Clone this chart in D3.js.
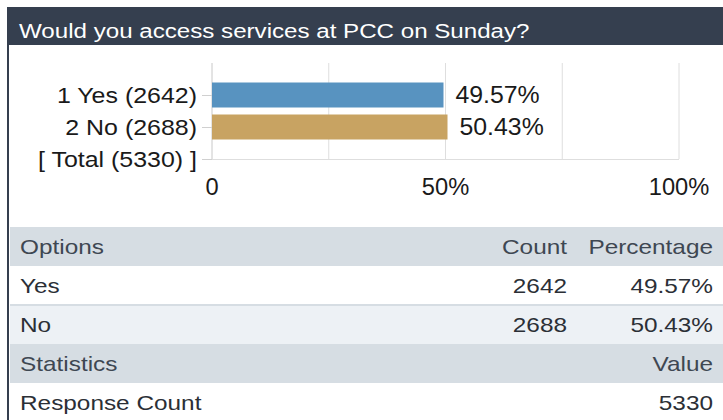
<!DOCTYPE html>
<html>
<head>
<meta charset="utf-8">
<script src="https://cdn.jsdelivr.net/npm/d3@7"></script>
<style>
  body { margin: 0; background: #fff; }
  text { font-family: "Liberation Sans", Arial, sans-serif; }
</style>
</head>
<body>
<div id="chart"></div>
<script>
var title = "Would you access services at PCC on Sunday?";
var options = ["Yes", "No"];
var counts = [2642, 2688];
var percents = [49.57, 50.43];
var total = 5330;
var xTicks = [0, 50, 100];
var gridTicks = [0, 25, 50, 75, 100];

var svgWidth = 723;
var svgHeight = 420;
var dark = "#353f4f";

// the source text is a bit wider than plain Arial, so stretch it sideways
function stretched(sel, x, y, sx) {
  return sel.append("g")
    .attr("transform", `translate(${x}, ${y}) scale(${sx}, 1)`)
    .append("text");
}

var svg = d3.select("#chart")
  .append("svg")
  .attr("width", svgWidth)
  .attr("height", svgHeight);

svg.append("rect")
  .attr("width", svgWidth).attr("height", svgHeight)
  .attr("fill", "#fff");

// header band + left border
svg.append("rect")
  .attr("x", 7).attr("y", 7)
  .attr("width", svgWidth - 7).attr("height", 38)
  .attr("fill", dark);

svg.append("rect")
  .attr("x", 7).attr("y", 7)
  .attr("width", 2).attr("height", svgHeight - 7)
  .attr("fill", dark);

stretched(svg, 19, 38, 1.15)
  .attr("fill", "#fff")
  .attr("font-size", 21)
  .text(title);

// bar chart
var labels = options.map((d, i) => (i + 1) + " " + d + " (" + counts[i] + ")");
var yLabels = [""].concat(labels, ["[ Total (" + total + ") ]"]);

var xScale = d3.scaleLinear().domain([0, 100]).range([212, 679]);
var yScale = d3.scalePoint().domain(yLabels).range([63, 159]);

var chartGroup = svg.append("g");

chartGroup.selectAll(".grid")
  .data(gridTicks)
  .enter()
  .append("line")
  .attr("x1", d => xScale(d)).attr("x2", d => xScale(d))
  .attr("y1", 63).attr("y2", 159)
  .attr("stroke", d => d === 0 ? "#c8c8c8" : "#dedede")
  .attr("stroke-width", 1);

chartGroup.append("line")
  .attr("x1", xScale(0)).attr("x2", xScale(100))
  .attr("y1", 159.5).attr("y2", 159.5)
  .attr("stroke", "#dedede");

chartGroup.selectAll(".ytick")
  .data(yLabels.slice(1))
  .enter()
  .append("line")
  .attr("x1", xScale(0) - 10).attr("x2", xScale(0))
  .attr("y1", d => yScale(d) + 0.5).attr("y2", d => yScale(d) + 0.5)
  .attr("stroke", "#d0d0d0");

yLabels.slice(1).forEach(function(d) {
  stretched(chartGroup, 197, yScale(d), 1.085)
    .attr("dy", "0.35em")
    .attr("text-anchor", "end")
    .attr("font-size", 23)
    .attr("fill", "#1a1a1a")
    .text(d);
});

var barColors = ["#5893c0", "#c8a362"];

chartGroup.selectAll(".bar")
  .data(percents)
  .enter()
  .append("rect")
  .attr("x", xScale(0))
  .attr("y", (d, i) => yScale(labels[i]) - 12.5)
  .attr("width", d => xScale(d) - xScale(0))
  .attr("height", 25)
  .attr("fill", (d, i) => barColors[i]);

percents.forEach(function(d, i) {
  stretched(chartGroup, xScale(d) + 12, yScale(labels[i]), 1.08)
    .attr("dy", "0.35em")
    .attr("font-size", 23)
    .attr("fill", "#1a1a1a")
    .text(d.toFixed(2) + "%");
});

xTicks.forEach(function(d) {
  stretched(chartGroup, xScale(d), 187, 1.03)
    .attr("dy", "0.35em")
    .attr("text-anchor", "middle")
    .attr("font-size", 23)
    .attr("fill", "#1a1a1a")
    .text(d === 0 ? "0" : d + "%");
});

// table
var rows = [
  { cells: ["Options", "Count", "Percentage"], fill: "#d6dde3", head: true },
  { cells: [options[0], counts[0], percents[0].toFixed(2) + "%"], fill: "#ffffff" },
  { cells: [options[1], counts[1], percents[1].toFixed(2) + "%"], fill: "#edf1f5" },
  { cells: ["Statistics", "", "Value"], fill: "#d6dde3", head: true },
  { cells: ["Response Count", "", total], fill: "#ffffff" }
];

var rowTop = 227;
var rowH = 39;

var tableGroup = svg.append("g");

var rowGroups = tableGroup.selectAll(".row")
  .data(rows)
  .enter()
  .append("g")
  .attr("transform", (d, i) => `translate(0, ${rowTop + i * rowH})`);

rowGroups.append("rect")
  .attr("x", 10).attr("y", 0)
  .attr("width", svgWidth - 10).attr("height", rowH)
  .attr("fill", d => d.fill);

tableGroup.append("rect")
  .attr("x", 10).attr("y", rowTop + 2 * rowH - 1)
  .attr("width", svgWidth - 10).attr("height", 2)
  .attr("fill", "#d6dde3");

var colX = [20, 567, 713];
var colAnchor = ["start", "end", "end"];

rowGroups.each(function(row) {
  var g = d3.select(this);
  row.cells.forEach(function(c, j) {
    if (c === "") return;
    stretched(g, colX[j], rowH / 2, 1.16)
      .attr("dy", "0.35em")
      .attr("text-anchor", colAnchor[j])
      .attr("font-size", 21)
      .attr("fill", row.head ? "#3e4752" : "#2b2f36")
      .text(c);
  });
});
</script>
</body>
</html>
